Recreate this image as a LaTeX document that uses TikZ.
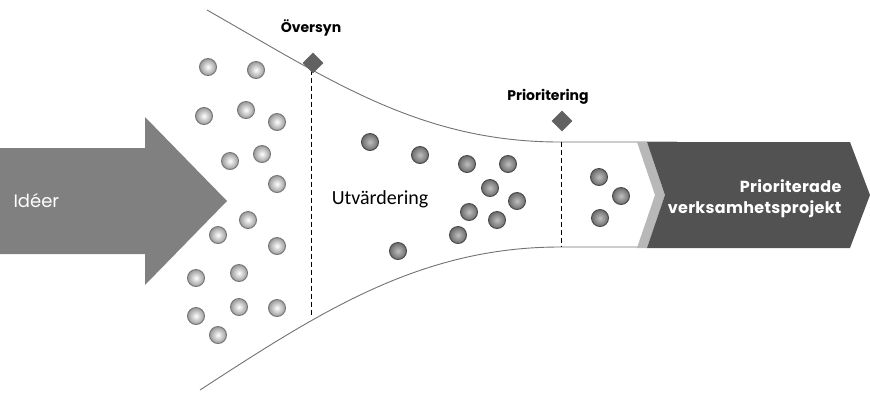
\documentclass[tikz,border=0pt]{standalone}
\usepackage{fontspec}
\setmainfont{Poppins}
\newfontfamily\carlitofont{Carlito}
\usetikzlibrary{shapes.geometric}
\begin{document}
\begin{tikzpicture}[x=1pt,y=-1pt,
  ballL/.style={circle,minimum size=17pt,inner sep=0pt,draw=black!55,line width=0.9pt,inner color=white,outer color=black!40},
  ballM/.style={circle,minimum size=17pt,inner sep=0pt,draw=black!72,line width=0.9pt,inner color=black!25,outer color=black!58},
  markd/.style={diamond,minimum width=21pt,minimum height=21pt,inner sep=0pt,fill=black!62},
  lbl/.style={font=\fontsize{14}{16}\selectfont\bfseries,text=black},
  funnel/.style={draw=black!55,line width=0.9pt},
  dash line/.style={draw=black,line width=0.8pt,dash pattern=on 5pt off 3pt}
]
\useasboundingbox[fill=white] (0,0) rectangle (870,392);

% funnel outline
\coordinate (t0) at (207,10);
\coordinate (t1) at (560,142);
\coordinate (t2) at (677,142);
\coordinate (b0) at (200,390);
\coordinate (b1) at (560,247);
\coordinate (b2) at (675,247);
\draw[funnel] (t0) .. controls (330,80) and (420,142) .. (t1) -- (t2);
\draw[funnel] (b0) .. controls (320,312) and (420,247) .. (b1) -- (b2);

% dashed dividers
\coordinate (d1a) at (311,70);
\coordinate (d1b) at (311,316);
\coordinate (d2a) at (561,142);
\coordinate (d2b) at (561,247);
\draw[dash line] (d1a) -- (d1b);
\draw[dash line] (d2a) -- (d2b);

% left arrow
\fill[black!50] (0,148) -- (145,148) -- (145,117) -- (227,201) -- (145,285) -- (145,254) -- (0,254) -- cycle;
\node[font=\fontsize{18}{20}\selectfont,text=white,anchor=west] (ideer) at (10,201) {Idéer};

% right arrow
\fill[black!28] (637,142) -- (647,142) -- (665,195) -- (647,248) -- (637,248) -- (655,195) -- cycle;
\fill[black!68] (647,142) -- (850,142) -- (870,195) -- (850,248) -- (647,248) -- (665,195) -- cycle;
\node[font=\fontsize{16}{21}\selectfont\bfseries\addfontfeature{LetterSpace=2},text=white,align=right,anchor=east] (proj) at (845,199) {Prioriterade\\verksamhetsprojekt};

% markers and labels
\node[markd] (m1) at (313,63) {};
\node[markd] (m2) at (562,121) {};
\node[lbl] (oversyn) at (311,28) {Översyn};
\node[lbl] (prio) at (548,97) {Prioritering};
\node[font=\carlitofont\fontsize{20}{22}\selectfont] (utv) at (380,199) {Utvärdering};

% left balls
\foreach \x/\y [count=\i] in {208/67,256/70,204/116,246/110,277/122,230/161,262/154,277/184,248/220,218/235,277/246,196/278,239/273,196/316,239/307,277/308,218/335}
  \node[ballL] (l\i) at (\x,\y) {};
% middle balls
\foreach \x/\y [count=\i] in {370/142,420/155,467/164,508/164,490/188,517/201,469/212,497/220,458/235,398/251}
  \node[ballM] (mb\i) at (\x,\y) {};
% right balls
\foreach \x/\y [count=\i] in {599/177,621/196,600/218}
  \node[ballM] (r\i) at (\x,\y) {};
\end{tikzpicture}
\end{document}
